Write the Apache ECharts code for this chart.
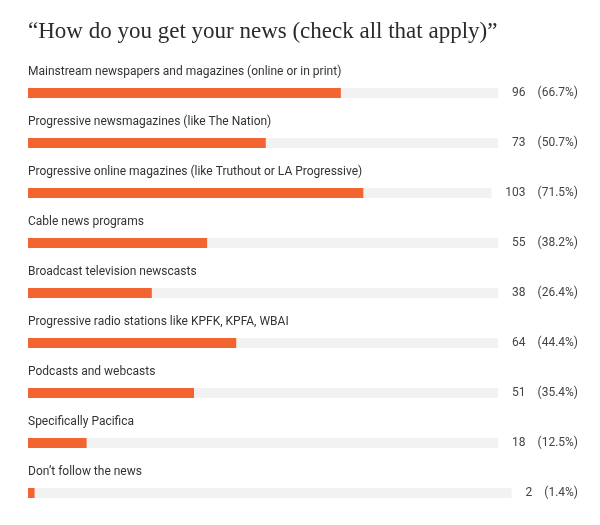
<!DOCTYPE html>
<html>
<head>
<meta charset="utf-8">
<script src="https://cdn.jsdelivr.net/npm/echarts@6/dist/echarts.min.js"></script>
<style>
  html, body { margin: 0; padding: 0; background: #fff; }
  #chart { width: 600px; height: 525px; }
</style>
</head>
<body>
<div id="chart"></div>
<script>
var categories = [
    'Mainstream newspapers and magazines (online or in print)',
    'Progressive newsmagazines (like The Nation)',
    'Progressive online magazines (like Truthout or LA Progressive)',
    'Cable news programs',
    'Broadcast television newscasts',
    'Progressive radio stations like KPFK, KPFA, WBAI',
    'Podcasts and webcasts',
    'Specifically Pacifica',
    'Don’t follow the news'
];
var counts = [96, 73, 103, 55, 38, 64, 51, 18, 2];
var percents = [66.7, 50.7, 71.5, 38.2, 26.4, 44.4, 35.4, 12.5, 1.4];

var labelFont = '12px Roboto';
var measureCtx = document.createElement('canvas').getContext('2d');
function textWidth(str) {
    measureCtx.font = labelFont;
    return measureCtx.measureText(str).width;
}
function pctText(i) {
    return '(' + percents[i].toFixed(1) + '%)';
}

var myChart = echarts.init(document.getElementById('chart'));
myChart.setOption({
    animation: false,
    title: {
        text: '“How do you get your news (check all that apply)”',
        left: 28,
        top: 20,
        padding: 0,
        textStyle: {
            fontFamily: 'Liberation Serif',
            fontSize: 23,
            fontWeight: 'normal',
            color: '#2b2b2b'
        }
    },
    grid: { left: 28, right: 103, top: 68, bottom: 7 },
    xAxis: { type: 'value', min: 0, max: 100, show: false },
    yAxis: { type: 'category', data: categories, inverse: true, show: false },
    series: [
        {
            // light track, label text and the count / percent column
            type: 'custom',
            z: 1,
            data: percents.map(function (p, i) { return [p, i]; }),
            renderItem: function (params, api) {
                var i = api.value(1);
                var start = api.coord([0, i]);
                var end = api.coord([100, i]);
                var rightX = end[0] + 81;
                var pct = pctText(i);
                var numRight = rightX - textWidth(pct) - 12;
                var trackEnd = numRight - textWidth(String(counts[i])) - 14;
                var y = start[1];
                return {
                    type: 'group',
                    children: [
                        {
                            type: 'rect',
                            shape: { x: start[0], y: y - 5, width: trackEnd - start[0], height: 10 },
                            style: { fill: '#f2f2f2' }
                        },
                        {
                            type: 'text',
                            style: {
                                x: start[0], y: y - 21, text: categories[i],
                                font: labelFont, fill: '#333', verticalAlign: 'middle', align: 'left'
                            }
                        },
                        {
                            type: 'text',
                            style: {
                                x: numRight, y: y, text: String(counts[i]),
                                font: labelFont, fill: '#444', verticalAlign: 'middle', align: 'right'
                            }
                        },
                        {
                            type: 'text',
                            style: {
                                x: rightX, y: y, text: pct,
                                font: labelFont, fill: '#444', verticalAlign: 'middle', align: 'right'
                            }
                        }
                    ]
                };
            }
        },
        {
            type: 'bar',
            z: 2,
            barWidth: 10,
            data: percents,
            itemStyle: { color: '#f26430' },
            silent: true
        }
    ]
});
</script>
</body>
</html>
